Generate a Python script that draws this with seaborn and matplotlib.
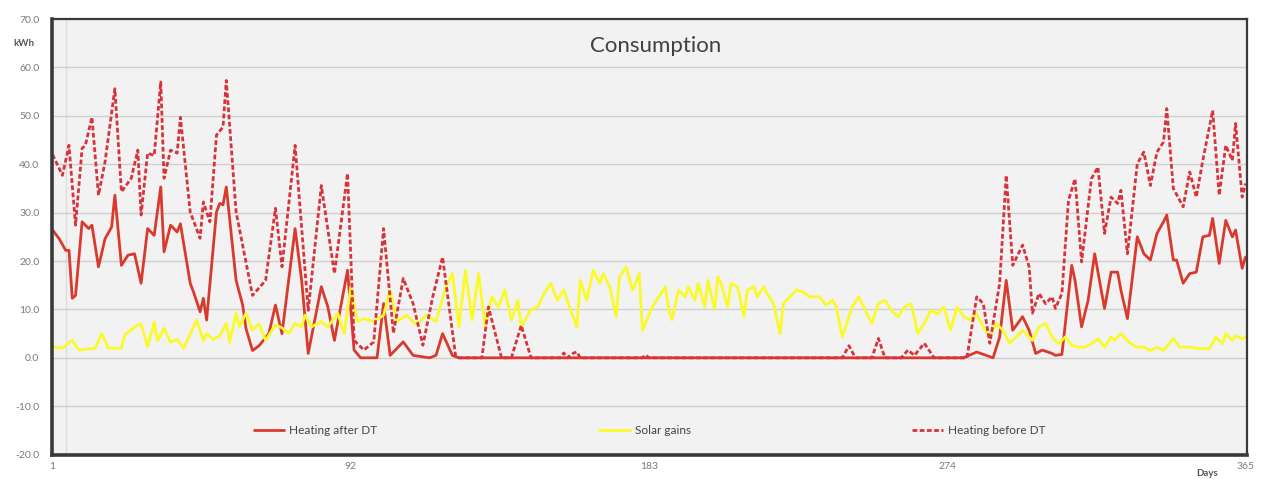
import seaborn as sns
import pandas as pd
import matplotlib.pyplot as plt
from matplotlib.ticker import FormatStrFormatter

# values (day of year -> kWh)
after_days = [1, 3, 5, 6, 7, 8, 10, 12, 13, 15, 17, 19, 20, 22, 24, 26, 28, 30, 32, 34, 35, 37, 39, 40,
              43, 44, 46, 47, 48, 51, 52, 53, 54, 57, 59, 60, 62, 64, 67, 69, 71, 75, 77, 79, 83, 85, 87,
              91, 93, 95, 100, 102, 104, 108, 111, 116, 118, 120, 123, 125, 279, 283, 288, 290, 292, 294,
              297, 299, 301, 303, 306, 307, 309, 312, 313, 315, 317, 319, 322, 324, 326, 327, 329, 332,
              334, 336, 338, 340, 341, 343, 344, 346, 348, 350, 352, 354, 355, 357, 359, 361, 362, 364, 365]
after_vals = [26.4, 24.6, 22.2, 22.2, 12.3, 12.9, 28.1, 26.7, 27.4, 18.8, 24.6, 27.0, 33.6, 19.1, 21.2,
              21.5, 15.4, 26.7, 25.3, 35.3, 21.9, 27.4, 26.0, 27.7, 15.4, 13.6, 9.5, 12.3, 7.8, 30.1, 31.9,
              31.6, 35.3, 16.0, 10.9, 6.1, 1.5, 2.5, 5.0, 10.9, 5.0, 26.7, 16.0, 0.9, 14.7, 10.5, 3.6, 18.1,
              1.6, 0, 0, 11.2, 0.5, 3.3, 0.5, 0, 0.5, 5.0, 0.5, 0, 0, 1.2, 0, 4.3, 16.0, 5.7, 8.5, 5.7, 0.9,
              1.6, 0.9, 0.5, 0.7, 19.1, 16.0, 6.4, 11.9, 21.5, 10.2, 17.7, 17.7, 14.0, 8.1, 25.0, 21.5,
              20.2, 25.7, 28.1, 29.5, 20.2, 20.2, 15.4, 17.4, 17.7, 25.0, 25.3, 28.8, 19.5, 28.4, 25.0,
              26.4, 18.5, 20.8]

solar_days = [1, 4, 7, 9, 14, 16, 18, 22, 23, 26, 28, 30, 32, 33, 35, 37, 39, 41, 44, 45, 47, 48, 50, 52,
              54, 55, 57, 58, 60, 62, 64, 66, 69, 71, 73, 75, 77, 78, 80, 83, 85, 88, 90, 92, 94, 96, 99,
              102, 104, 106, 109, 112, 115, 118, 121, 123, 125, 127, 129, 131, 133, 135, 137, 139, 141,
              143, 144, 147, 149, 151, 153, 155, 157, 159, 161, 162, 164, 166, 168, 169, 171, 173, 174,
              176, 178, 180, 181, 184, 186, 188, 189, 190, 192, 194, 195, 197, 198, 200, 201, 203, 204,
              205, 207, 208, 210, 212, 213, 215, 216, 218, 219, 221, 223, 224, 226, 228, 230, 232, 235,
              237, 239, 240, 242, 244, 245, 247, 249, 251, 253, 255, 257, 259, 261, 263, 265, 267, 269,
              271, 273, 275, 277, 279, 281, 283, 285, 287, 289, 291, 293, 295, 297, 300, 302, 304, 306,
              308, 310, 312, 314, 316, 318, 320, 322, 324, 325, 327, 328, 330, 332, 334, 336, 338, 340,
              343, 345, 348, 351, 354, 356, 358, 359, 361, 362, 364, 365]
solar_vals = [2.3, 2.0, 3.6, 1.6, 2.0, 5.0, 2.0, 2.0, 4.7, 6.4, 7.0, 2.3, 7.4, 3.5, 6.1, 3.2, 3.8, 2.0, 6.4,
              7.8, 3.6, 5.0, 3.8, 4.5, 7.1, 3.2, 9.2, 6.4, 9.2, 5.7, 7.0, 3.6, 6.8, 6.2, 5.0, 7.1, 6.4, 8.8,
              6.4, 7.5, 6.4, 9.2, 5.0, 14.7, 7.5, 8.1, 7.5, 8.8, 14.0, 7.5, 8.8, 6.8, 8.8, 7.5, 14.7, 17.4,
              6.4, 18.1, 7.8, 17.4, 6.4, 12.6, 10.5, 14.0, 7.8, 11.9, 6.4, 10.0, 10.5, 13.3, 15.4, 11.9,
              14.0, 10.0, 6.4, 16.0, 11.9, 18.1, 15.4, 17.4, 14.7, 8.5, 16.7, 18.8, 14.0, 17.4, 5.7, 10.5,
              12.6, 14.7, 10.0, 7.8, 14.0, 12.6, 14.7, 11.9, 15.4, 10.5, 16.0, 10.0, 16.7, 15.4, 10.5, 15.4,
              14.7, 8.5, 14.0, 14.7, 12.6, 14.7, 13.3, 11.2, 5.0, 11.2, 12.6, 14.0, 13.6, 12.6, 12.6, 10.9,
              11.9, 10.9, 4.3, 8.5, 10.5, 12.6, 9.8, 7.1, 11.2, 11.9, 9.8, 8.5, 10.5, 11.2, 5.0, 7.1, 9.8,
              9.1, 10.5, 5.7, 10.5, 8.5, 7.8, 9.1, 6.4, 4.3, 7.1, 5.7, 3.0, 4.3, 5.7, 3.6, 6.4, 7.1, 4.3,
              2.9, 4.3, 2.6, 2.2, 2.2, 2.9, 3.9, 2.2, 4.3, 3.6, 5.0, 4.3, 2.9, 2.2, 2.2, 1.5, 2.2, 1.5, 4.0,
              2.2, 2.2, 1.9, 1.9, 4.3, 2.9, 5.0, 3.6, 4.6, 3.9, 4.3]

before_days = [1, 4, 6, 8, 10, 11, 13, 15, 17, 20, 22, 25, 27, 28, 30, 32, 34, 35, 37, 39, 40, 43, 46, 47,
               49, 51, 53, 54, 57, 62, 66, 69, 71, 75, 79, 83, 87, 91, 93, 96, 99, 102, 105, 108, 111, 114,
               117, 120, 124, 125, 132, 134, 138, 141, 144, 147, 156, 157, 158, 160, 161, 162, 181, 182,
               183, 242, 244, 246, 251, 253, 255, 260, 262, 264, 267, 270, 280, 283, 285, 287, 290, 292,
               294, 297, 299, 300, 302, 304, 306, 307, 309, 311, 313, 315, 318, 320, 322, 324, 326, 327,
               329, 332, 334, 336, 338, 340, 341, 343, 346, 348, 350, 352, 355, 357, 359, 361, 362, 364, 365]
before_vals = [42.0, 37.7, 43.9, 27.4, 43.3, 43.9, 49.7, 33.6, 40.5, 55.6, 34.3, 37.1, 42.9, 29.5, 42.3,
               41.8, 57.0, 37.1, 42.9, 42.3, 49.7, 30.1, 24.7, 32.2, 28.1, 46.0, 47.7, 57.3, 30.1, 12.9,
               16.0, 30.9, 18.8, 43.9, 9.8, 35.6, 17.4, 38.1, 3.6, 1.6, 3.3, 26.7, 5.1, 16.4, 11.2, 2.6,
               12.6, 20.8, 0.3, 0, 0, 10.5, 0, 0, 6.7, 0, 0, 1.0, 0, 1.0, 1.2, 0, 0, 0.6, 0, 0, 2.5, 0, 0,
               4.0, 0, 0, 1.6, 0.5, 3.0, 0, 0, 12.6, 11.2, 3.0, 15.4, 37.7, 19.1, 23.3, 18.8, 9.2, 13.3,
               11.2, 12.6, 10.2, 13.3, 32.5, 37.0, 19.8, 37.0, 39.4, 25.7, 33.2, 31.9, 34.6, 21.5, 40.1,
               42.5, 35.6, 42.5, 44.6, 51.5, 35.0, 31.2, 38.4, 33.2, 40.8, 51.1, 33.6, 43.9, 40.8, 48.4,
               33.2, 36.0]

series = ['Heating after DT', 'Solar gains', 'Heating before DT']
x_ticks = [1, 92, 183, 274, 365]

df = pd.concat([
    pd.DataFrame({'Day': after_days, 'kWh': after_vals, 'Series': series[0]}),
    pd.DataFrame({'Day': solar_days, 'kWh': solar_vals, 'Series': series[1]}),
    pd.DataFrame({'Day': before_days, 'kWh': before_vals, 'Series': series[2]}),
])

sns.set_theme(style='white')
plt.rcParams['font.family'] = ['Lato', 'DejaVu Sans']
plt.rcParams['axes.unicode_minus'] = False

fig = plt.figure(figsize=(12.64, 4.79), dpi=100)
ax = fig.add_axes([0.0411, 0.0509, 0.9455, 0.9094])
ax.set_facecolor('#f2f2f2')

palette = {series[0]: '#d93a2e', series[1]: '#fafa2a', series[2]: '#d8333b'}
dashes = {series[0]: '', series[1]: '', series[2]: (1.7, 0.9)}
sns.lineplot(data=df, x='Day', y='kWh', hue='Series', style='Series', hue_order=series,
             style_order=series, palette=palette, dashes=dashes, estimator=None,
             linewidth=2, ax=ax)

ax.set_ylim(-20, 70)
ax.set_xlim(0.8, 365.5)
ax.set_yticks(range(-20, 71, 10))
ax.yaxis.set_major_formatter(FormatStrFormatter('%.1f'))
ax.set_xticks(x_ticks)
ax.set_xticklabels([str(t) for t in x_ticks])
ax.tick_params(length=0, labelsize=7.5, labelcolor='#7a7a7a')
ax.tick_params(axis='y', pad=9)
ax.tick_params(axis='x', pad=5)
ax.yaxis.grid(True, color='#cfcfcf', linewidth=1)
ax.xaxis.grid(False)
ax.axvline(5, color='#dcdcdc', linewidth=1, zorder=0)
ax.set_axisbelow(True)
ax.set_xlabel('')
ax.set_ylabel('')

for side, lw in [('left', 2.6), ('bottom', 2.6), ('top', 1.6), ('right', 1.6)]:
    ax.spines[side].set_visible(True)
    ax.spines[side].set_color('#3a3a3a')
    ax.spines[side].set_linewidth(lw)

ax.text(0.505, 0.938, 'Consumption', transform=ax.transAxes, ha='center', va='center',
        fontsize=16, color='#404040')
fig.text(24 / 1264, 1 - 43 / 479, 'kWh', ha='center', va='center', fontsize=7,
         fontweight='bold', color='#555555')
fig.text(1207 / 1264, 1 - 473 / 479, 'Days', ha='center', va='center', fontsize=7,
         fontweight='bold', color='#555555')

handles, labels = ax.get_legend_handles_labels()
ax.legend(handles, labels, loc='center', bbox_to_anchor=(0.5, 0.056), ncol=3, frameon=False,
          fontsize=8.5, handlelength=2.6, handletextpad=0.4, columnspacing=18.8,
          labelcolor='#444444')

fig.savefig('out.png', dpi=100)
